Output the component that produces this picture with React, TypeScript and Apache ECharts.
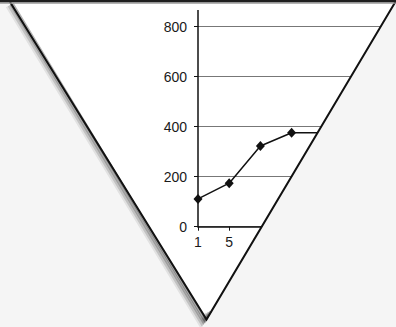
import React, { useEffect, useRef } from "react";
import * as echarts from "echarts";

const categories = ["1", "5", "10", "15", "20", "25", "30"];
const values = [111, 174, 323, 376, 376];
const yMin = 0;
const yMax = 800;
const yInterval = 200;

export default function App() {
  const ref = useRef<HTMLDivElement>(null);
  useEffect(() => {
    if (!ref.current) return;
    const chart = echarts.init(ref.current, undefined, { renderer: "svg" });
    const font = "'Liberation Sans', Arial, Helvetica, sans-serif";
    chart.setOption({
      animation: false,
      backgroundColor: "#ffffff",
      grid: { left: 198, top: 26.7, right: 2, bottom: 100.3, containLabel: false },
      xAxis: {
        type: "category",
        data: categories,
        boundaryGap: false,
        axisLine: { lineStyle: { color: "#111", width: 1.5 } },
        axisTick: { show: true, length: 4, lineStyle: { color: "#111", width: 1 } },
        axisLabel: { color: "#1a1a1a", fontSize: 14, fontFamily: font, margin: 8 },
        splitLine: { show: false },
      },
      yAxis: {
        type: "value",
        min: yMin,
        max: yMax,
        interval: yInterval,
        axisLine: { show: true, lineStyle: { color: "#111", width: 1.5 } },
        axisTick: { show: true, length: 4, lineStyle: { color: "#111", width: 1 } },
        axisLabel: { color: "#1a1a1a", fontSize: 14, fontFamily: font, margin: 11 },
        splitLine: { show: true, lineStyle: { color: "#777777", width: 1.2 } },
      },
      series: [
        {
          type: "line",
          data: values,
          symbol: "diamond",
          symbolSize: [9, 10],
          showAllSymbol: true,
          lineStyle: { color: "#111", width: 1.5 },
          itemStyle: { color: "#111" },
          z: 5,
        },
      ],
    });
    const p = chart.convertToPixel({ gridIndex: 0 }, [0, yMax]) as number[];
    const ax = p[0];
    const ay = p[1];
    const edgePts = [
      [10, 2],
      [206.5, 319.5],
      [396.5, 0],
    ];
    const shadowPts = [
      [14, 2],
      [206.5, 319.5],
      [212, 310],
    ];
    const shadowSteps = [
      { dx: -6, dy: 4, w: 5, a: 0.08 },
      { dx: -4.5, dy: 3.5, w: 4, a: 0.14 },
      { dx: -3, dy: 2.5, w: 3, a: 0.22 },
      { dx: -1.5, dy: 1.5, w: 2.5, a: 0.3 },
    ];
    const shadows = shadowSteps.map((s, i) => ({
      type: "polyline",
      id: "shadow" + i,
      shape: { points: shadowPts.map(([x, y]) => [x + s.dx, y + s.dy]) },
      style: { stroke: `rgba(0,0,0,${s.a})`, lineWidth: s.w, fill: "none" },
      z: 100.5,
    }));
    chart.setOption({
      graphic: [
        {
          type: "line",
          id: "axisExt",
          shape: { x1: ax, y1: ay, x2: ax, y2: 10 },
          style: { stroke: "#111", lineWidth: 1.5 },
          z: 50,
        },
        {
          type: "polygon",
          id: "mask",
          shape: {
            points: [
              [-5, 2],
              [10, 2],
              [206.5, 319.5],
              [396, 1],
              [410, 1],
              [410, 340],
              [-5, 340],
            ],
          },
          style: { fill: "#f5f5f5" },
          z: 100,
        },
        ...shadows,
        {
          type: "polyline",
          id: "edges",
          shape: { points: edgePts },
          style: { stroke: "#111", lineWidth: 2, fill: "none" },
          z: 101,
        },
        {
          type: "rect",
          id: "topbar",
          shape: { x: 0, y: 0, width: 396, height: 2.5 },
          style: { fill: "#1e1e1e" },
          z: 102,
        },
        {
          type: "rect",
          id: "topbar2",
          shape: { x: 0, y: 2.5, width: 396, height: 1.2 },
          style: { fill: "#9a9a9a" },
          z: 102,
        },
      ],
    });
    return () => chart.dispose();
  }, []);
  return (
    <div
      ref={ref}
      style={{ position: "fixed", left: 0, top: 0, width: 396, height: 327 }}
    />
  );
}
